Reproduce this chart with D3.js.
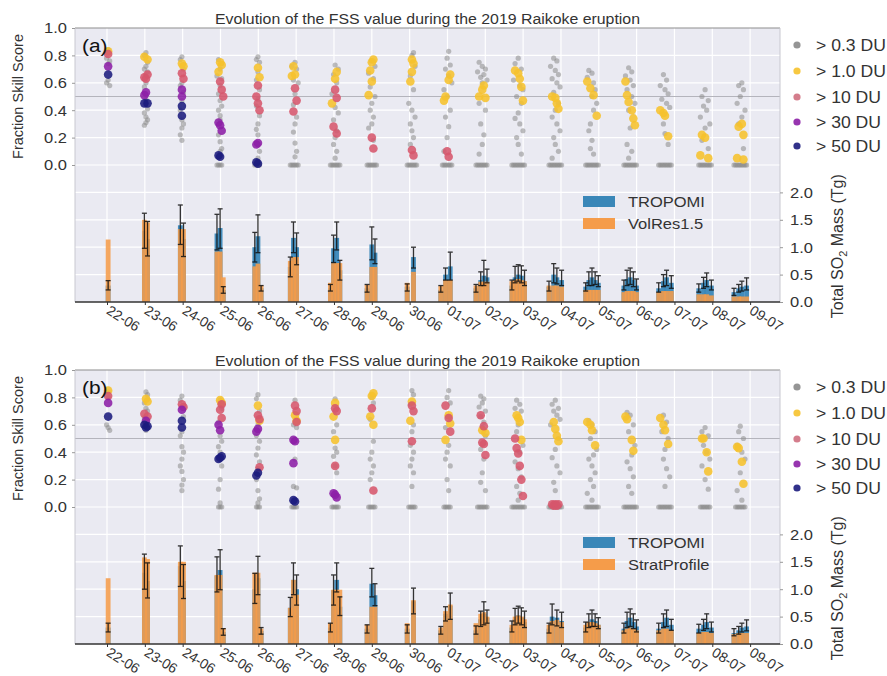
<!DOCTYPE html>
<html><head><meta charset="utf-8">
<script src="https://cdn.jsdelivr.net/npm/d3@7"></script>
<style>body{margin:0;background:#fff}svg{display:block}text{font-family:"Liberation Sans",Arial,sans-serif}</style>
</head><body><svg id="c" width="887" height="676"></svg>
<script>
// ---------- DATA ----------
const dates = ["22-06","23-06","24-06","25-06","26-06","27-06","28-06","29-06","30-06","01-07","02-07","03-07","04-07","05-07","06-07","07-07","08-07","09-07"];
// centre of each day's group of observations (days since 22-06 00:00)
const clusterT = [0.03,1.03,1.98,2.99,3.99,4.97,6.03,7.0,8.06,8.99,9.92,10.87,11.85,12.82,13.83,14.75,15.81,16.74];
const thresholds = ["> 0.3 DU","> 1.0 DU","> 10 DU","> 30 DU","> 50 DU"];
// points are [hour offset from cluster centre, FSS]
const grayA = [
 [[0,0.84],[-1,0.78],[1,0.76],[0,0.74],[0,0.62],[-1,0.60],[1,0.58]],
 [[0,0.82],[-1,0.80],[1,0.75],[0,0.72],[-1,0.70],[1,0.68],[0,0.60],[-1,0.57],[0,0.48],[1,0.41],[-1,0.38],[0,0.35],[1,0.33],[0,0.31],[-1,0.29]],
 [[0,0.79],[-1,0.77],[1,0.70],[0,0.60],[-1,0.58],[1,0.53],[0,0.47],[-1,0.40],[0,0.33],[1,0.30],[0,0.27],[-1,0.22],[0,0.18]],
 [[-1,0.77],[1,0.74],[0,0.70],[-2,0.65],[1,0.63],[0,0.58],[-1,0.52],[0,0.47],[1,0.43],[-1,0.40],[0,0.36],[0,0.33],[-1,0.22],[0,0.17],[1,0.12],[0,0.10],[-2,0],[-1,0],[0,0],[1,0]],
 [[0,0.79],[-1,0.77],[1,0.75],[0,0.68],[-1,0.62],[1,0.55],[0,0.48],[-1,0.43],[1,0.36],[0,0.30],[-1,0.26],[0,0.22],[1,0.10],[0,0.05],[-2,0],[-1,0],[0,0],[1,0]],
 [[0,0.75],[-2,0.72],[1,0.70],[-1,0.62],[2,0.60],[0,0.52],[-1,0.44],[1,0.35],[0,0.30],[-1,0.24],[0,0.16],[1,0.10],[0,0.06],[-3,0],[-2,0],[-1,0],[0,0],[1,0],[2,0]],
 [[0,0.73],[2,0.70],[-1,0.66],[1,0.60],[-2,0.52],[0,0.42],[2,0.38],[-1,0.33],[1,0.25],[0,0.20],[-1,0.15],[1,0.10],[0,0.05],[-3,0],[-2,0],[-1,0],[0,0],[1,0],[2,0],[3,0]],
 [[0,0.76],[2,0.72],[-2,0.67],[1,0.63],[-1,0.57],[2,0.50],[0,0.45],[-1,0.40],[1,0.35],[0,0.30],[-2,0.27],[1,0.18],[-3,0],[-2,0],[-1,0],[0,0],[1,0],[2,0],[3,0]],
 [[1,0.82],[0,0.80],[2,0.72],[-1,0.65],[1,0.55],[-2,0.45],[0,0.40],[2,0.35],[-1,0.30],[0,0.25],[1,0.20],[-1,0.15],[-3,0],[-2,0],[-1,0],[0,0],[1,0],[2,0],[3,0]],
 [[1,0.83],[0,0.78],[2,0.73],[-1,0.70],[1,0.65],[3,0.60],[-2,0.55],[0,0.50],[2,0.40],[-1,0.35],[1,0.28],[0,0.20],[-2,0.10],[-3,0],[-2,0],[-1,0],[0,0],[1,0],[2,0],[3,0]],
 [[-2,0.75],[0,0.72],[2,0.70],[-3,0.68],[1,0.66],[-1,0.64],[3,0.62],[0,0.60],[-2,0.45],[2,0.40],[-1,0.30],[1,0.22],[0,0.15],[-2,0.08],[-4,0],[-3,0],[-2,0],[-1,0],[0,0],[1,0],[2,0],[3,0]],
 [[0,0.78],[-2,0.74],[2,0.70],[-3,0.62],[1,0.58],[3,0.55],[-1,0.50],[2,0.45],[0,0.38],[-2,0.34],[1,0.30],[3,0.25],[-1,0.20],[0,0.15],[2,0.08],[-4,0],[-3,0],[-2,0],[-1,0],[0,0],[1,0],[2,0],[3,0],[4,0]],
 [[-1,0.78],[1,0.76],[-3,0.72],[0,0.69],[2,0.66],[-2,0.63],[1,0.60],[3,0.57],[-1,0.53],[2,0.45],[0,0.40],[-2,0.35],[1,0.30],[3,0.25],[-1,0.20],[0,0.15],[2,0.10],[-2,0.05],[-4,0],[-3,0],[-2,0],[-1,0],[0,0],[1,0],[2,0],[3,0],[4,0]],
 [[-2,0.69],[0,0.67],[-3,0.64],[1,0.60],[2,0.55],[0,0.50],[3,0.45],[1,0.40],[-1,0.30],[-2,0.25],[0,0.18],[-1,0.12],[1,0.08],[-4,0],[-3,0],[-2,0],[-1,0],[0,0],[1,0],[2,0],[3,0],[4,0]],
 [[-1,0.71],[1,0.68],[-3,0.65],[0,0.62],[2,0.58],[-2,0.55],[1,0.50],[3,0.45],[-1,0.40],[0,0.27],[-2,0.15],[1,0.10],[-1,0.05],[-4,0],[-3,0],[-2,0],[-1,0],[0,0],[1,0],[2,0],[3,0],[4,0]],
 [[-1,0.66],[1,0.62],[-3,0.58],[0,0.55],[2,0.52],[-2,0.48],[1,0.45],[3,0.42],[-1,0.30],[0,0.23],[2,0.15],[-4,0],[-3,0],[-2,0],[-1,0],[0,0],[1,0],[2,0],[3,0],[4,0]],
 [[0,0.55],[-2,0.50],[2,0.47],[-1,0.43],[1,0.40],[-3,0.35],[3,0.30],[0,0.27],[-2,0.18],[2,0.12],[-4,0],[-3,0],[-2,0],[-1,0],[0,0],[1,0],[2,0],[3,0],[4,0]],
 [[1,0.60],[-1,0.58],[2,0.55],[0,0.50],[-2,0.45],[3,0.40],[1,0.35],[-1,0.30],[2,0.12],[-4,0],[-3,0],[-2,0],[-1,0],[0,0],[1,0],[2,0],[3,0],[4,0]]
];
const yellowA = [
 [[0,0.83]],[[-1,0.79],[1,0.77]],[[0,0.74],[1,0.72]],[[0,0.75],[1,0.73],[-1,0.68]],[[0,0.71],[1,0.64]],
 [[-1,0.72],[0,0.66],[-2,0.65]],[[1,0.68],[0,0.63],[-2,0.45]],[[1,0.77],[0,0.75],[-1,0.69],[0,0.61],[-2,0.51]],
 [[0,0.77],[1,0.74],[0,0.68],[-1,0.61]],[[2,0.66],[1,0.62],[-2,0.47],[-1,0.50]],[[1,0.58],[0,0.55],[-2,0.50],[2,0.49]],
 [[-2,0.69],[0,0.67],[1,0.63],[2,0.57],[3,0.47]],[[-2,0.50],[0,0.49],[1,0.45],[2,0.41]],[[-3,0.61],[-1,0.56],[1,0.51],[3,0.36]],
 [[-3,0.61],[-2,0.51],[-1,0.46],[1,0.40],[2,0.34],[3,0.29]],[[-3,0.40],[-1,0.38],[0,0.36],[2,0.21]],
 [[-2,0.22],[0,0.20],[-3,0.07],[2,0.05]],[[-1,0.28],[1,0.30],[2,0.22],[-2,0.05],[2,0.04]]
];
const redA = [
 [[0,0.81]],[[-1,0.64],[1,0.66],[0,0.63]],[[0,0.67],[1,0.63]],[[0,0.61],[1,0.55],[2,0.50]],[[0,0.58],[-1,0.50],[0,0.45],[1,0.40]],
 [[0,0.56],[1,0.47],[-1,0.39]],[[0,0.55],[1,0.49],[-1,0.28],[1,0.23]],[[0,0.20],[1,0.12]],[[0,0.11],[1,0.07]],[[0,0.10],[1,0.06]],
 [],[],[],[],[],[],[],[]
];
const purpleA = [[[0,0.72]],[[0,0.53],[-1,0.51]],[[0,0.55],[0,0.50]],[[-1,0.31],[0,0.29],[1,0.25]],[[0,0.16],[-1,0.15]],[],[],[],[],[],[],[],[],[],[],[],[],[]];
const navyA = [[[0,0.66]],[[-1,0.45],[1,0.45]],[[0,0.43],[0,0.36]],[[-1,0.07],[0,0.06]],[[-1,0.02],[0,0.01]],[],[],[],[],[],[],[],[],[],[],[],[],[]];

const grayB = [
 [[0,0.84],[0,0.80],[-1,0.60],[0,0.58],[1,0.56]],
 [[0,0.84],[1,0.82],[-1,0.76],[0,0.72],[1,0.70],[-1,0.65],[0,0.56]],
 [[0,0.81],[-1,0.78],[1,0.66],[0,0.55],[-1,0.52],[0,0.44],[1,0.40],[0,0.35],[-1,0.30],[0,0.26],[1,0.20],[0,0.16],[0,0.12]],
 [[0,0.78],[1,0.72],[-1,0.62],[0,0.52],[1,0.48],[-1,0.44],[0,0.40],[1,0.30],[0,0.20],[-1,0.13],[0,0.03],[-1,0],[0,0],[1,0]],
 [[0,0.82],[-1,0.79],[1,0.70],[0,0.60],[-1,0.52],[1,0.48],[0,0.43],[-1,0.38],[1,0.33],[0,0.28],[-1,0.20],[0,0.12],[1,0.06],[0,0.03],[-1,0],[0,0],[1,0]],
 [[0,0.78],[-1,0.60],[1,0.58],[0,0.35],[-1,0.15],[1,0.14],[-2,0],[-1,0],[0,0],[1,0]],
 [[0,0.79],[1,0.60],[-1,0.55],[0,0.43],[1,0.40],[-1,0.37],[0,0.30],[1,0.25],[-2,0],[-1,0],[0,0],[1,0],[2,0]],
 [[0,0.80],[1,0.76],[-1,0.64],[1,0.48],[0,0.40],[-1,0.35],[1,0.30],[0,0.25],[-1,0.20],[-2,0],[-1,0],[0,0],[1,0],[2,0]],
 [[0,0.85],[1,0.82],[-1,0.75],[1,0.60],[0,0.55],[-1,0.45],[1,0.40],[0,0.35],[-1,0.30],[1,0.25],[0,0.15],[-2,0],[-1,0],[0,0],[1,0],[2,0]],
 [[1,0.85],[0,0.80],[2,0.76],[-1,0.58],[1,0.45],[0,0.40],[-1,0.35],[2,0.30],[0,0.20],[1,0.12],[-2,0],[-1,0],[0,0],[1,0],[2,0]],
 [[-1,0.81],[1,0.79],[0,0.76],[-2,0.73],[2,0.70],[-1,0.66],[1,0.62],[0,0.58],[2,0.52],[-1,0.42],[1,0.35],[0,0.25],[-1,0.18],[2,0.12],[-3,0],[-2,0],[-1,0],[0,0],[1,0],[2,0],[3,0]],
 [[-1,0.78],[1,0.75],[-2,0.72],[2,0.70],[0,0.60],[-1,0.55],[3,0.45],[1,0.40],[-2,0.33],[0,0.28],[2,0.22],[-1,0.15],[1,0.10],[0,0.05],[-4,0],[-3,0],[-2,0],[-1,0],[0,0],[1,0],[2,0],[3,0],[4,0]],
 [[0,0.78],[-2,0.75],[2,0.72],[-1,0.70],[1,0.67],[3,0.64],[-3,0.60],[2,0.50],[0,0.42],[-2,0.36],[1,0.30],[3,0.25],[-1,0.18],[0,0.12],[-4,0],[-3,0],[-2,0],[-1,0],[0,0],[1,0],[2,0],[3,0],[4,0]],
 [[-2,0.63],[0,0.60],[2,0.55],[-1,0.50],[3,0.42],[1,0.38],[-2,0.35],[0,0.30],[2,0.25],[-1,0.20],[1,0.15],[-3,0.10],[0,0.05],[-4,0],[-3,0],[-2,0],[-1,0],[0,0],[1,0],[2,0],[3,0],[4,0]],
 [[-2,0.69],[0,0.67],[2,0.60],[-1,0.55],[3,0.45],[1,0.38],[-2,0.33],[0,0.28],[2,0.22],[-1,0.15],[1,0.10],[-4,0],[-3,0],[-2,0],[-1,0],[0,0],[1,0],[2,0],[3,0],[4,0]],
 [[-1,0.67],[1,0.62],[-2,0.55],[2,0.50],[0,0.42],[-1,0.35],[1,0.28],[3,0.22],[0,0.15],[-4,0],[-3,0],[-2,0],[-1,0],[0,0],[1,0],[2,0],[3,0],[4,0]],
 [[0,0.58],[-2,0.55],[2,0.52],[-1,0.45],[1,0.40],[3,0.35],[-2,0.30],[0,0.20],[2,0.13],[-3,0],[-2,0],[-1,0],[0,0],[1,0],[2,0],[3,0]],
 [[0,0.59],[-1,0.55],[2,0.50],[-2,0.45],[1,0.40],[3,0.35],[0,0.25],[-2,0.12],[1,0.05],[-3,0],[-2,0],[-1,0],[0,0],[1,0],[2,0],[3,0]]
];
const yellowB = [
 [[0,0.85]],[[0,0.79],[1,0.77]],[],[[0,0.78],[1,0.76]],[[0,0.74],[1,0.63]],[[0,0.67],[1,0.63]],
 [[0,0.76],[-1,0.66],[0,0.49]],[[1,0.83],[0,0.81],[-1,0.66],[1,0.60]],[[0,0.77],[-1,0.63]],[[1,0.67],[2,0.61],[-1,0.49]],
 [[0,0.56],[2,0.54]],[[-1,0.67],[0,0.65],[1,0.62],[2,0.49]],[[-1,0.62],[0,0.57],[1,0.52],[2,0.48]],[[-3,0.62],[-1,0.60],[0,0.56],[2,0.45]],
 [[-3,0.66],[-2,0.64],[1,0.49],[2,0.41]],[[-3,0.65],[-1,0.60],[0,0.56],[2,0.46]],[[-2,0.50],[-1,0.50],[1,0.40],[2,0.26]],[[-2,0.44],[-1,0.43],[1,0.33],[2,0.17]]
];
const redB = [
 [[0,0.81]],[[-1,0.68],[1,0.66]],[[0,0.75],[1,0.73]],[[1,0.75],[0,0.71],[1,0.65]],[[0,0.67],[1,0.64],[1,0.29]],
 [[0,0.74],[1,0.70],[1,0.62]],[[0,0.72],[1,0.70],[0,0.30]],[[0,0.72],[1,0.12]],[[0,0.74],[1,0.70],[0,0.48]],
 [[-1,0.74],[1,0.65],[2,0.55]],[[-1,0.67],[1,0.59],[0,0.47],[1,0.46],[2,0.38]],[[-2,0.50],[-1,0.43],[0,0.39],[1,0.30],[2,0.20],[3,0.08]],
 [[-2,0.02],[-1,0.01],[0,0.02],[1,0.01],[2,0.02]],[],[],[],[],[]
];
const purpleB = [[[0,0.76]],[[0,0.63]],[[0,0.71]],[[-1,0.60],[0,0.56]],[[0,0.57],[-1,0.55]],[[-1,0.49],[0,0.48],[-1,0.32]],[[-1,0.10],[0,0.09],[1,0.07]],[],[],[],[],[],[],[],[],[],[],[]];
const navyB = [[[0,0.66]],[[-1,0.60],[0,0.58],[1,0.59]],[[0,0.63],[0,0.58]],[[-1,0.35],[0,0.36],[1,0.37]],[[-1,0.23],[0,0.25]],[[-1,0.05],[0,0.04]],[],[],[],[],[],[],[],[],[],[],[],[]];

// bars: [hour offset, TROPOMI mass, error low, error high, model mass] (Tg)
const barsA = [
 [[0,0.30,0.22,0.39,1.14]],
 [[-1,1.30,0.98,1.62,1.50],[1,1.15,0.84,1.47,1.45]],
 [[-1,1.40,1.05,1.77,1.33],[1,1.15,0.83,1.44,1.33]],
 [[-2,1.25,0.95,1.60,0.92],[0,1.35,0.98,1.70,0.92],[2,0.22,0.16,0.28,0.45]],
 [[-2,1.00,0.73,1.27,0.65],[0,1.20,0.90,1.59,0.70],[2,0.25,0.20,0.30,0.30]],
 [[-3,0.64,0.46,0.82,0.75],[-1,1.17,0.90,1.46,0.82],[1,1.00,0.68,1.26,0.82]],
 [[-3,0.25,0.20,0.32,0.35],[-1,0.98,0.72,1.22,0.71],[1,1.17,0.95,1.46,0.71],[3,0.58,0.40,0.76,0.71]],
 [[-3,0.25,0.18,0.32,0.31],[0,1.05,0.77,1.37,0.64],[2,0.90,0.70,1.15,0.64]],
 [[-3,0.28,0.20,0.33,0.35],[1,0.82,0.62,1.00,0.55]],
 [[-4,0.22,0.18,0.30,0.29],[-1,0.50,0.40,0.62,0.40],[2,0.65,0.40,0.91,0.40]],
 [[-4,0.25,0.18,0.32,0.30],[-1,0.40,0.30,0.55,0.37],[1,0.48,0.30,0.76,0.37],[3,0.45,0.35,0.60,0.37]],
 [[-4,0.30,0.22,0.40,0.38],[-2,0.45,0.35,0.65,0.40],[0,0.50,0.38,0.68,0.42],[2,0.48,0.35,0.66,0.40],[4,0.38,0.30,0.58,0.38]],
 [[-4,0.28,0.20,0.38,0.30],[-1,0.50,0.35,0.70,0.30],[1,0.45,0.33,0.62,0.30],[4,0.40,0.30,0.58,0.28]],
 [[-4,0.28,0.20,0.35,0.22],[-2,0.40,0.30,0.55,0.22],[0,0.45,0.30,0.62,0.22],[2,0.40,0.32,0.55,0.22],[4,0.35,0.28,0.48,0.22]],
 [[-4,0.30,0.22,0.40,0.18],[-2,0.42,0.30,0.58,0.20],[0,0.45,0.32,0.62,0.20],[2,0.40,0.28,0.55,0.20],[4,0.30,0.22,0.42,0.18]],
 [[-4,0.25,0.18,0.35,0.18],[-1,0.38,0.28,0.50,0.20],[1,0.45,0.30,0.58,0.20],[4,0.35,0.25,0.48,0.20]],
 [[-4,0.25,0.18,0.33,0.14],[-1,0.35,0.25,0.45,0.14],[1,0.40,0.28,0.53,0.14],[4,0.30,0.22,0.40,0.12]],
 [[-4,0.18,0.12,0.25,0.10],[-1,0.25,0.18,0.32,0.10],[1,0.28,0.20,0.38,0.10],[4,0.30,0.22,0.44,0.10]]
];
const barsB = [
 [[0,0.30,0.22,0.38,1.20]],
 [[-1,1.30,1.00,1.64,1.58],[1,1.15,0.84,1.48,1.55]],
 [[-1,1.42,1.05,1.79,1.50],[1,1.15,0.83,1.45,1.50]],
 [[-2,1.25,0.95,1.59,1.26],[0,1.35,0.99,1.72,1.26],[2,0.22,0.16,0.28,0.29]],
 [[-2,1.00,0.74,1.29,1.30],[0,1.20,0.90,1.60,1.30],[2,0.24,0.18,0.30,0.28]],
 [[-3,0.66,0.50,0.85,0.66],[-1,1.17,0.90,1.48,1.17],[1,1.00,0.71,1.26,0.90]],
 [[-3,0.30,0.22,0.38,0.38],[-1,0.98,0.71,1.26,0.99],[1,1.17,0.95,1.48,0.99],[3,0.68,0.52,0.86,0.99]],
 [[-3,0.28,0.20,0.35,0.35],[0,1.10,0.86,1.38,0.68],[2,0.89,0.70,1.10,0.68]],
 [[-3,0.28,0.20,0.35,0.38],[1,0.78,0.55,1.02,0.80]],
 [[-4,0.25,0.18,0.32,0.30],[-1,0.55,0.42,0.68,0.60],[2,0.70,0.45,0.93,0.72]],
 [[-4,0.25,0.18,0.33,0.38],[-1,0.45,0.32,0.60,0.55],[1,0.55,0.35,0.77,0.58],[3,0.48,0.38,0.62,0.50]],
 [[-4,0.30,0.22,0.42,0.35],[-2,0.45,0.35,0.65,0.50],[0,0.52,0.38,0.69,0.52],[2,0.48,0.35,0.66,0.50],[4,0.40,0.30,0.60,0.45]],
 [[-4,0.28,0.20,0.38,0.35],[-2,0.50,0.35,0.73,0.42],[1,0.48,0.33,0.62,0.44],[4,0.42,0.30,0.58,0.40]],
 [[-4,0.30,0.22,0.40,0.35],[-2,0.40,0.30,0.55,0.40],[0,0.45,0.32,0.62,0.40],[2,0.42,0.32,0.55,0.38],[4,0.35,0.28,0.48,0.35]],
 [[-4,0.28,0.20,0.38,0.25],[-2,0.42,0.30,0.58,0.28],[0,0.48,0.32,0.64,0.30],[2,0.40,0.28,0.55,0.28],[4,0.32,0.22,0.44,0.25]],
 [[-4,0.28,0.20,0.38,0.25],[-1,0.40,0.30,0.55,0.28],[1,0.48,0.32,0.62,0.28],[4,0.35,0.25,0.45,0.25]],
 [[-4,0.28,0.20,0.36,0.20],[-1,0.35,0.25,0.45,0.22],[1,0.40,0.28,0.55,0.22],[4,0.30,0.22,0.40,0.20]],
 [[-4,0.20,0.15,0.28,0.18],[-1,0.25,0.18,0.32,0.20],[1,0.30,0.22,0.38,0.20],[4,0.32,0.24,0.44,0.20]]
];

// ---------- DRAWING ----------
const svg = d3.select("#c");
const FONT = '"Liberation Sans",Arial,sans-serif';
const L = 75, R = 780, PH = 274;
const x = d3.scaleLinear().domain([-0.846, 17.79]).range([L, R]);
const tOf = (i, h) => clusterT[i] + h / 24;
const COLORS = {gray:"#8a8a8a", yellow:"#f6c22c", red:"#d6566c", purple:"#8c1fa6", navy:"#1b1b7d"};
const BLUE = "#3a87b8", ORANGE = "#f59c4a";
const SX = 1.1; // horizontal stretch of the original figure's lettering

function flatten(arr){ const out=[]; arr.forEach((c,i)=>c.forEach(p=>out.push({t:tOf(i,p[0]), v:p[1]}))); return out; }

function panel(cfg){
  const T = cfg.top, B = T + PH;
  const yF = d3.scaleLinear().domain([-1, 1]).range([B, T]);
  const yM = d3.scaleLinear().domain([0, 5]).range([B, T]);
  const g = svg.append("g");
  const clipId = "clip" + cfg.id;
  svg.append("clipPath").attr("id", clipId).append("rect").attr("x", L).attr("y", T).attr("width", R-L).attr("height", PH);
  g.append("rect").attr("x", L).attr("y", T).attr("width", R-L).attr("height", PH).attr("fill", "#eaeaf2");
  // grid
  g.selectAll(null).data(d3.range(-4, 5).map(i => i * 0.2)).join("line")
    .attr("x1", L).attr("x2", R).attr("y1", d => yF(d)).attr("y2", d => yF(d))
    .attr("stroke", "#fff").attr("stroke-width", 1.2);
  g.selectAll(null).data(d3.range(18)).join("line")
    .attr("x1", d => x(d)).attr("x2", d => x(d)).attr("y1", T).attr("y2", B)
    .attr("stroke", "#fff").attr("stroke-width", 1.2);
  g.append("line").attr("x1", L).attr("x2", R).attr("y1", yF(0.5)).attr("y2", yF(0.5))
    .attr("stroke", "#b4b4bc").attr("stroke-width", 1);

  const pg = g.append("g").attr("clip-path", `url(#${clipId})`);
  // bars
  const bars = [];
  cfg.bars.forEach((c, i) => c.forEach(b => bars.push({t: tOf(i, b[0]), trop: b[1], lo: b[2], hi: b[3], mod: b[4]})));
  const bw = 4.8;
  pg.selectAll(null).data(bars).join("rect")
    .attr("x", d => x(d.t) - bw/2).attr("width", bw)
    .attr("y", d => yM(d.trop)).attr("height", d => yM(0) - yM(d.trop))
    .attr("fill", BLUE).attr("opacity", 0.95);
  pg.selectAll(null).data(bars).join("rect")
    .attr("x", d => x(d.t) - bw/2).attr("width", bw)
    .attr("y", d => yM(d.mod)).attr("height", d => yM(0) - yM(d.mod))
    .attr("fill", ORANGE).attr("opacity", 0.88);
  const eb = pg.selectAll(null).data(bars).join("g").attr("stroke", "#111").attr("stroke-width", 1.3).attr("opacity", 0.85);
  eb.append("line").attr("x1", d => x(d.t)).attr("x2", d => x(d.t)).attr("y1", d => yM(d.lo)).attr("y2", d => yM(d.hi));
  eb.append("line").attr("x1", d => x(d.t) - 2.5).attr("x2", d => x(d.t) + 2.5).attr("y1", d => yM(d.lo)).attr("y2", d => yM(d.lo));
  eb.append("line").attr("x1", d => x(d.t) - 2.5).attr("x2", d => x(d.t) + 2.5).attr("y1", d => yM(d.hi)).attr("y2", d => yM(d.hi));

  // scatter
  pg.selectAll(null).data(flatten(cfg.gray)).join("circle")
    .attr("cx", d => x(d.t)).attr("cy", d => yF(d.v)).attr("r", 2.6)
    .attr("fill", COLORS.gray).attr("opacity", 0.55);
  [["yellow", cfg.yellow], ["red", cfg.red], ["purple", cfg.purple], ["navy", cfg.navy]].forEach(([k, arr]) => {
    pg.selectAll(null).data(flatten(arr)).join("circle")
      .attr("cx", d => x(d.t)).attr("cy", d => yF(d.v)).attr("r", 4.3)
      .attr("fill", COLORS[k]).attr("opacity", 0.88);
  });

  // frame
  g.append("line").attr("x1", L).attr("x2", R).attr("y1", T).attr("y2", T).attr("stroke", "#8e8e8e").attr("stroke-width", 1.2);
  g.append("line").attr("x1", L).attr("x2", L).attr("y1", T).attr("y2", B).attr("stroke", "#c8c8d0");
  g.append("line").attr("x1", R).attr("x2", R).attr("y1", T).attr("y2", B).attr("stroke", "#c8c8d0");
  g.append("line").attr("x1", L).attr("x2", R).attr("y1", B).attr("y2", B).attr("stroke", "#333").attr("stroke-width", 1.5);

  // axes
  const ax = g.append("g").attr("transform", `translate(${L},0)`)
    .call(d3.axisLeft(yF).tickValues([0, 0.2, 0.4, 0.6, 0.8, 1.0]).tickFormat(d3.format(".1f")).tickSize(3).tickPadding(5));
  ax.select(".domain").remove();
  ax.selectAll("line").attr("stroke", "#999");
  ax.selectAll("text").attr("font-size", 15).attr("fill", "#333").attr("font-family", FONT)
    .attr("x", null).attr("transform", `translate(-8,0) scale(${SX},1)`);
  const ar = g.append("g").attr("transform", `translate(${R},0)`)
    .call(d3.axisRight(yM).tickValues([0, 0.5, 1.0, 1.5, 2.0]).tickFormat(d3.format(".1f")).tickSize(3).tickPadding(7));
  ar.select(".domain").remove();
  ar.selectAll("line").attr("stroke", "#999");
  ar.selectAll("text").attr("font-size", 15).attr("fill", "#333").attr("font-family", FONT)
    .attr("x", null).attr("transform", `translate(10,0) scale(${SX},1)`);
  const ab = g.append("g").attr("transform", `translate(0,${B})`)
    .call(d3.axisBottom(x).tickValues(d3.range(18)).tickFormat((d) => dates[d]).tickSize(3));
  ab.select(".domain").remove();
  ab.selectAll("line").attr("stroke", "#333");
  ab.selectAll("text").attr("font-size", 14).attr("fill", "#333").attr("font-family", FONT)
    .attr("text-anchor", "start").attr("x", 0).attr("y", 0).attr("dy", 0)
    .attr("transform", "translate(-2,11) rotate(32)");

  // titles & labels
  svg.append("text").attr("x", 215).attr("y", T - 4).attr("textLength", 425).attr("lengthAdjust", "spacingAndGlyphs")
    .attr("font-size", 14).attr("fill", "#333").text("Evolution of the FSS value during the 2019 Raikoke eruption");
  svg.append("text").attr("transform", `translate(18,${yF(0.5)}) rotate(-90)`).attr("text-anchor", "middle").attr("dy", "0.35em")
    .attr("font-size", 14.5).attr("fill", "#333").text("Fraction Skill Score");
  const rl = svg.append("text").attr("transform", `translate(837,${yM(1.0) - 1}) rotate(-90)`).attr("text-anchor", "middle").attr("dy", "0.35em")
    .attr("font-size", 16).attr("fill", "#333");
  rl.append("tspan").text("Total SO");
  rl.append("tspan").attr("dy", 4).attr("font-size", 11).text("2");
  rl.append("tspan").attr("dy", -4).text(" Mass (Tg)");
  svg.append("text").attr("transform", `translate(82,${T + 24}) scale(${SX},1)`).attr("font-size", 19).attr("fill", "#111").text(cfg.label);

  // scatter legend
  const legCols = [COLORS.gray, COLORS.yellow, "#cf6f80", COLORS.purple, COLORS.navy];
  const legY = [17, 43, 69, 94, 118];
  thresholds.forEach((t, i) => {
    svg.append("circle").attr("cx", 797).attr("cy", T + legY[i]).attr("r", 3.6).attr("fill", legCols[i]).attr("opacity", 0.9);
    svg.append("text").attr("transform", `translate(816,${T + legY[i]}) scale(${SX},1)`).attr("dy", "0.36em")
      .attr("font-size", 16).attr("fill", "#333").text(t);
  });
  // bar legend
  const by = T + cfg.legTop;
  svg.append("rect").attr("x", 583).attr("y", by).attr("width", 32).attr("height", 11).attr("fill", BLUE);
  svg.append("rect").attr("x", 583).attr("y", by + 22).attr("width", 32).attr("height", 11).attr("fill", ORANGE);
  svg.append("text").attr("transform", `translate(628,${by + 5.5}) scale(${SX},1)`).attr("dy", "0.36em").attr("font-size", 15).attr("fill", "#333").text("TROPOMI");
  svg.append("text").attr("transform", `translate(628,${by + 27.5}) scale(${SX},1)`).attr("dy", "0.36em").attr("font-size", 15).attr("fill", "#333").text(cfg.model);
}

panel({id: "a", top: 28, label: "(a)", model: "VolRes1.5", legTop: 168, gray: grayA, yellow: yellowA, red: redA, purple: purpleA, navy: navyA, bars: barsA});
panel({id: "b", top: 370, label: "(b)", model: "StratProfile", legTop: 167, gray: grayB, yellow: yellowB, red: redB, purple: purpleB, navy: navyB, bars: barsB});
</script></body></html>
